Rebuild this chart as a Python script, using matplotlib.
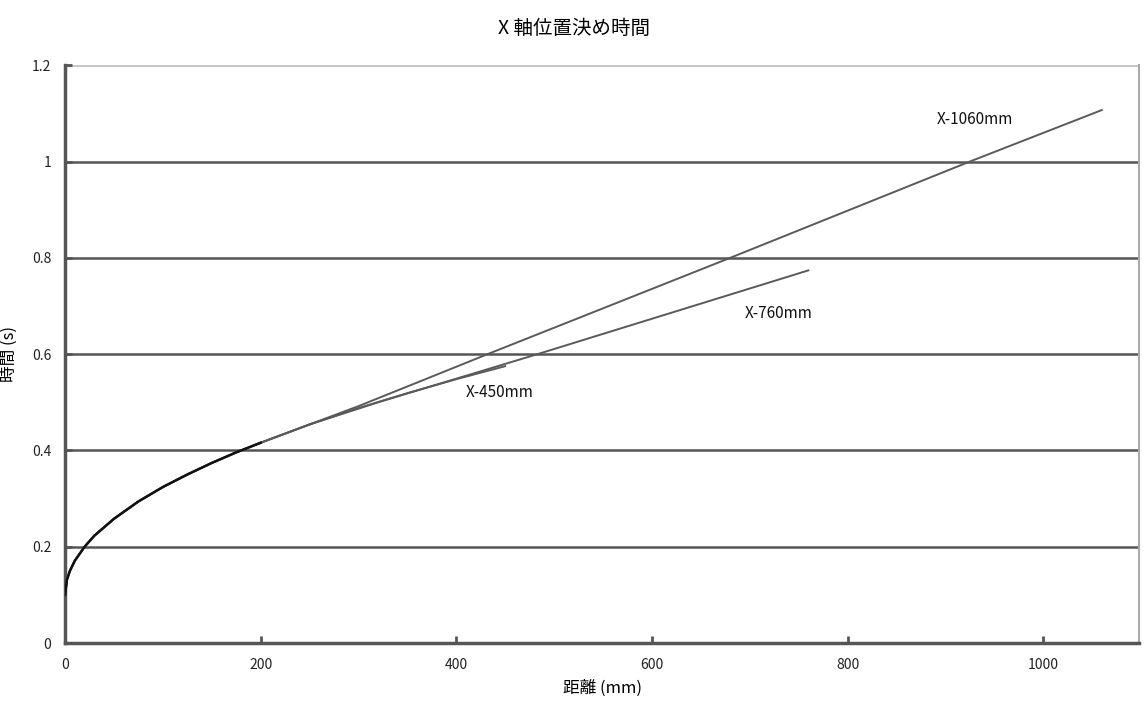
import matplotlib
matplotlib.use('Agg')
import matplotlib.pyplot as plt

plt.rcParams['font.family'] = ['Noto Sans CJK JP', 'DejaVu Sans']

# common acceleration curve
curve_x = [0, 2, 5, 10, 20, 30, 50, 75, 100, 125, 150, 175, 200]
curve_y = [0.100, 0.132, 0.150, 0.171, 0.200, 0.223, 0.258, 0.294, 0.324, 0.350, 0.374, 0.396, 0.416]

x1060_x = curve_x + [300, 432, 680, 925, 1060]
x1060_y = curve_y + [0.492, 0.600, 0.800, 1.000, 1.107]

x760_x = curve_x + [250, 320, 483, 760]
x760_y = curve_y + [0.454, 0.500, 0.600, 0.774]

x450_x = curve_x + [250, 300, 350, 400, 450]
x450_y = curve_y + [0.454, 0.488, 0.519, 0.548, 0.575]

labels = ['X-1060mm', 'X-760mm', 'X-450mm']
label_pos = [(891, 1.088), (695, 0.685), (410, 0.521)]

yticks = [0, 0.2, 0.4, 0.6, 0.8, 1.0, 1.2]
ytick_labels = ['0', '0.2', '0.4', '0.6', '0.8', '1', '1.2']
xticks = [0, 200, 400, 600, 800, 1000]

fig = plt.figure(figsize=(11.47, 7.02), dpi=100)
ax = fig.add_axes([0.0567, 0.084, 0.9363, 0.823])

for y in [0.2, 0.4, 0.6, 0.8, 1.0]:
    ax.axhline(y, color='#555555', lw=1.8, zorder=1)
ax.axhline(1.2, color='#c8c8c8', lw=3, zorder=1)

line_col = '#5a5a5a'
ax.plot(x1060_x, x1060_y, color=line_col, lw=1.4, zorder=3)
ax.plot(x760_x, x760_y, color=line_col, lw=1.4, zorder=3)
ax.plot(x450_x, x450_y, color=line_col, lw=1.4, zorder=3)
ax.plot(curve_x, curve_y, color='#111111', lw=1.8, zorder=4)

for txt, (lx, ly) in zip(labels, label_pos):
    ax.text(lx, ly, txt, fontsize=11, ha='left', va='center', color='#111111')

ax.set_xlim(0, 1098)
ax.set_ylim(0, 1.2)
ax.set_xticks(xticks)
ax.set_yticks(yticks)
ax.set_yticklabels(ytick_labels)
ax.tick_params(axis='both', direction='in', length=5, width=2, color='#555555',
               labelsize=10, labelcolor='#222222')
ax.tick_params(axis='x', pad=11)
ax.tick_params(axis='y', pad=10)

for side in ['left', 'bottom']:
    ax.spines[side].set_color('#555555')
    ax.spines[side].set_linewidth(2.5)
ax.spines['right'].set_color('#aaaaaa')
ax.spines['right'].set_linewidth(1.5)
ax.spines['top'].set_visible(False)

ax.set_xlabel('距離 (mm)', fontsize=12, labelpad=5)
ax.set_ylabel('時間 (s)', fontsize=12, labelpad=10)
fig.suptitle('X 軸位置決め時間', fontsize=14, y=0.975)

plt.savefig('out.png', dpi=100)
plt.close()
